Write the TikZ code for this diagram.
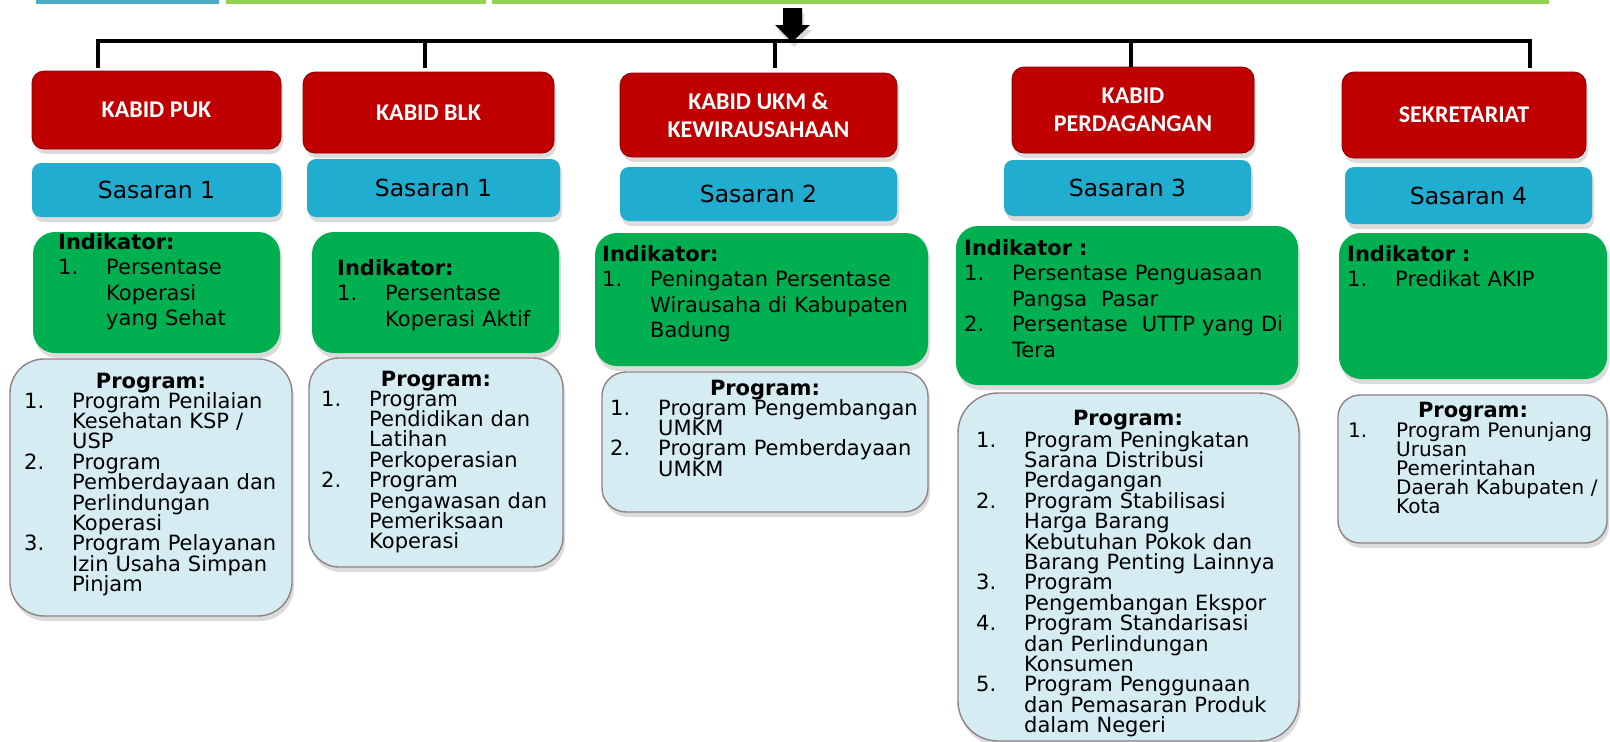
\documentclass[tikz,border=0pt]{standalone}
\usepackage{fontspec}
\setmainfont{DejaVu Sans}
\newfontfamily\hdrfont{Carlito}
\usepackage{xcolor}
\usetikzlibrary{calc, shadows}
\definecolor{kred}{HTML}{C00000}
\definecolor{kreddark}{HTML}{8A0000}
\definecolor{kcyan}{HTML}{21ADD0}
\definecolor{kgreen}{HTML}{00B050}
\definecolor{kpale}{HTML}{D5ECF3}
\definecolor{kedge}{HTML}{8F8284}
\definecolor{kstripblue}{HTML}{4BACC6}
\definecolor{kstripgreen}{HTML}{92D050}
\newcommand{\lbl}[1]{\makebox[48pt][l]{#1}}

\begin{document}
\begin{tikzpicture}[x=1pt, y=-1pt,
  softshadow/.style={drop shadow={opacity=0.28, shadow xshift=2pt, shadow yshift=-5pt}},
  kabid/.style={fill=kred, draw=kreddark, line width=0.8pt, rounded corners=12pt, softshadow,
    text=white, align=center, inner sep=0pt, font=\hdrfont\bfseries\fontsize{24}{28}\selectfont},
  sasaran/.style={fill=kcyan, rounded corners=9pt, softshadow, inner sep=0pt,
    font=\fontsize{23.5}{28}\selectfont},
  indbox/.style={fill=kgreen, rounded corners=22pt, softshadow},
  progbox/.style={fill=kpale, draw=kedge, line width=1.4pt, rounded corners=30pt, softshadow},
  tightlines/.style={execute at begin node={\lineskiplimit=-30pt\hyphenpenalty=10000\relax}},
  indtext/.style={anchor=base west, inner sep=0pt, text width=420pt, align=left, tightlines,
    font=\fontsize{21}{25.5}\selectfont},
  progtext/.style={anchor=base west, inner sep=0pt, text width=420pt, align=left, tightlines,
    font=\fontsize{21}{20.4}\selectfont},
  proghead/.style={anchor=base, inner sep=0pt, font=\bfseries\fontsize{21}{21}\selectfont},
  barline/.style={line width=4pt}]

\useasboundingbox[fill=white] (0,0) rectangle (1610,742);

%% Top strips
\fill[kstripblue] (36,0) rectangle (219,3.5);
\fill[kstripgreen] (226,0) rectangle (486,3.5);
\fill[kstripgreen] (492,0) rectangle (1549,3.5);

%% Down arrow
\fill[black, softshadow] (783,8) -- (802,8) -- (802,25) -- (810,25) -- (792,42) -- (775,25) -- (783,25) -- cycle;

%% ── KABID PUK ───────────────────────────────────────────────────────────
\node[kabid, minimum width=249pt, minimum height=78pt] (puk) at (156.5,110) {KABID PUK};
\node[sasaran, minimum width=249pt, minimum height=54pt] (puksas) at (156.5,190) {Sasaran 1};
\node[indbox, minimum width=247pt, minimum height=121pt] (pukind) at (156.5,292.5) {};
\node[indtext] (pukindtx) at (58,249)
  {\textbf{Indikator:}\\ \lbl{1.}Persentase\\ \lbl{}Koperasi\\ \lbl{}yang Sehat};
\node[progbox, rounded corners=34pt, minimum width=282pt, minimum height=257pt] (pukprog) at (151,487.5) {};
\node[proghead] (pukproghd) at (151,388) {Program:};
\node[progtext] (pukprogtx) at (24,408)
  {\lbl{1.}Program Penilaian\\ \lbl{}Kesehatan KSP /\\ \lbl{}USP\\
   \lbl{2.}Program\\ \lbl{}Pemberdayaan dan\\ \lbl{}Perlindungan\\ \lbl{}Koperasi\\
   \lbl{3.}Program Pelayanan\\ \lbl{}Izin Usaha Simpan\\ \lbl{}Pinjam};

%% ── KABID BLK ───────────────────────────────────────────────────────────
\node[kabid, minimum width=251pt, minimum height=81pt] (blk) at (428.5,112.5) {KABID BLK};
\node[sasaran, minimum width=253pt, minimum height=58pt] (blksas) at (433.5,188) {Sasaran 1};
\node[indbox, minimum width=247pt, minimum height=121pt] (blkind) at (435.5,292.5) {};
\node[indtext] (blkindtx) at (337,275)
  {\textbf{Indikator:}\\ \lbl{1.}Persentase\\ \lbl{}Koperasi Aktif};
\node[progbox, minimum width=254pt, minimum height=209pt] (blkprog) at (436,462.5) {};
\node[proghead] (blkproghd) at (436,386) {Program:};
\node[progtext] (blkprogtx) at (321,406)
  {\lbl{1.}Program\\ \lbl{}Pendidikan dan\\ \lbl{}Latihan\\ \lbl{}Perkoperasian\\
   \lbl{2.}Program\\ \lbl{}Pengawasan dan\\ \lbl{}Pemeriksaan\\ \lbl{}Koperasi};

%% ── KABID UKM & KEWIRAUSAHAAN ───────────────────────────────────────────
\node[kabid, minimum width=277pt, minimum height=84pt] (ukm) at (758.5,115) {KABID UKM \&\\KEWIRAUSAHAAN};
\node[sasaran, minimum width=277pt, minimum height=54pt] (ukmsas) at (758.5,194) {Sasaran 2};
\node[indbox, minimum width=333pt, minimum height=133pt] (ukmind) at (761.5,299.5) {};
\node[indtext] (ukmindtx) at (602,261)
  {\textbf{Indikator:}\\ \lbl{1.}Peningatan Persentase\\ \lbl{}Wirausaha di Kabupaten\\ \lbl{}Badung};
\node[progbox, rounded corners=24pt, minimum width=326pt, minimum height=140pt] (ukmprog) at (765,442) {};
\node[proghead] (ukmproghd) at (765,395) {Program:};
\node[progtext] (ukmprogtx) at (610,415)
  {\lbl{1.}Program Pengembangan\\ \lbl{}UMKM\\ \lbl{2.}Program Pemberdayaan\\ \lbl{}UMKM};

%% ── KABID PERDAGANGAN ───────────────────────────────────────────────────
\node[kabid, minimum width=242pt, minimum height=86pt] (perdag) at (1133,110) {KABID\\PERDAGANGAN};
\node[sasaran, minimum width=247pt, minimum height=56pt] (perdagsas) at (1127.5,188) {Sasaran 3};
\node[indbox, minimum width=342pt, minimum height=159pt] (perdagind) at (1127,305.5) {};
\node[indtext] (perdagindtx) at (964,255)
  {\textbf{Indikator :}\\ \lbl{1.}Persentase Penguasaan\\ \lbl{}Pangsa\ \ Pasar\\
   \lbl{2.}Persentase\ \ UTTP yang Di\\ \lbl{}Tera};
\node[progbox, rounded corners=40pt, minimum width=341pt, minimum height=348pt] (perdagprog) at (1128.5,567) {};
\node[proghead] (perdagproghd) at (1128,425) {Program:};
\node[progtext] (perdagprogtx) at (976,447)
  {\lbl{1.}Program Peningkatan\\ \lbl{}Sarana Distribusi\\ \lbl{}Perdagangan\\
   \lbl{2.}Program Stabilisasi\\ \lbl{}Harga Barang\\ \lbl{}Kebutuhan Pokok dan\\ \lbl{}Barang Penting Lainnya\\
   \lbl{3.}Program\\ \lbl{}Pengembangan Ekspor\\
   \lbl{4.}Program Standarisasi\\ \lbl{}dan Perlindungan\\ \lbl{}Konsumen\\
   \lbl{5.}Program Penggunaan\\ \lbl{}dan Pemasaran Produk\\ \lbl{}dalam Negeri};

%% ── SEKRETARIAT ─────────────────────────────────────────────────────────
\node[kabid, minimum width=244pt, minimum height=86pt] (sek) at (1464,115) {SEKRETARIAT};
\node[sasaran, minimum width=247pt, minimum height=57pt] (seksas) at (1468.5,195.5) {Sasaran 4};
\node[indbox, minimum width=268pt, minimum height=146pt] (sekind) at (1473,306) {};
\node[indtext] (sekindtx) at (1347,261)
  {\textbf{Indikator :}\\ \lbl{1.}Predikat AKIP};
\node[progbox, rounded corners=22pt, minimum width=269pt, minimum height=148pt] (sekprog) at (1472.5,469) {};
\node[proghead] (sekproghd) at (1473,417) {Program:};
\node[progtext, font=\fontsize{20}{19}\selectfont] (sekprogtx) at (1348,437)
  {\lbl{1.}Program Penunjang\\ \lbl{}Urusan\\ \lbl{}Pemerintahan\\ \lbl{}Daerah Kabupaten /\\ \lbl{}Kota};

%% Connector bar
\coordinate (barL) at (98,41);
\coordinate (barR) at (1530,41);
\coordinate (jblk) at (425,41);
\coordinate (jukm) at (775,41);
\coordinate (jper) at (1131,41);
\draw[barline, shorten <=3pt, shorten >=4pt] (puk.north -| barL) -- (barL) -- (barR) -- (sek.north -| barR);
\draw[barline, shorten >=4pt] (jblk) -- (blk.north -| jblk);
\draw[barline, shorten >=5pt] (jukm) -- (ukm.north -| jukm);
\draw[barline] (jper) -- (perdag.north -| jper);

\end{tikzpicture}
\end{document}
